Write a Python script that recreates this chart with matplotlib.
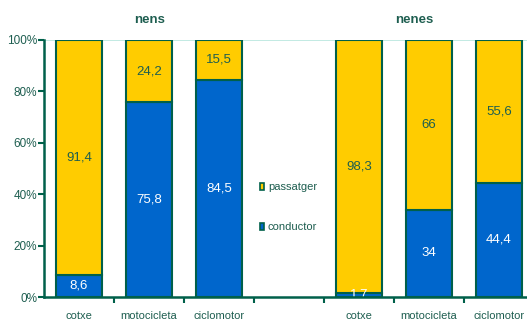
import numpy as np
import matplotlib.pyplot as plt
from matplotlib.patches import Rectangle

plt.rcParams["font.family"] = ["Liberation Sans", "DejaVu Sans"]

# Data: 7 slots, the 4th one is empty (legend sits there)
categories = ["cotxe", "motocicleta", "ciclomotor", "", "cotxe", "motocicleta", "ciclomotor"]
conductor = [8.6, 75.8, 84.5, None, 1.7, 34, 44.4]
passatger = [91.4, 24.2, 15.5, None, 98.3, 66, 55.6]
yticks = [0, 20, 40, 60, 80, 100]

YELLOW = "#FFCC00"
BLUE = "#0066CC"
EDGE = "#00604A"
TXT = "#1E5E50"

W, H = 527, 320
fig = plt.figure(figsize=(W / 100, H / 100), dpi=100)
ax = fig.add_axes([44 / W, 23 / H, 490 / W, 257 / H])

x = np.arange(len(categories))
bw = 0.66
fmt = lambda v: ("%g" % v).replace(".", ",")

for i in x:
    c, p = conductor[i], passatger[i]
    if c is None:
        continue
    ax.bar(i, c, bw, color=BLUE, edgecolor=EDGE, lw=1.5, zorder=2)
    ax.bar(i, p, bw, bottom=c, color=YELLOW, edgecolor=EDGE, lw=1.5, zorder=2)
    ax.text(i, c / 2, fmt(c), ha="center", va="center", color="white",
            fontsize=9.5, zorder=3)
    ax.text(i, c + p / 2, fmt(p), ha="center", va="center", color=TXT,
            fontsize=9.5, zorder=3)

ax.axhline(100, color="#B8E6DE", lw=1.2, zorder=1)

ax.set_xlim(-0.5, 6.5)
ax.set_ylim(0, 100)
ax.set_yticks(yticks)
ax.set_yticklabels(["%d%%" % v for v in yticks], color=TXT, fontsize=8.5)
ax.set_xticks(np.arange(0.5, 6.5, 1))
ax.set_xticklabels([])
ax.tick_params(axis="y", direction="out", length=4, width=1.5, color=EDGE, pad=1)
ax.tick_params(axis="x", direction="out", length=4, width=1.5, color=EDGE)
for i, name in enumerate(categories):
    ax.text(i, -7.2, name, ha="center", va="center", color=TXT, fontsize=8,
            transform=ax.transData, clip_on=False)

for s in ["top", "right"]:
    ax.spines[s].set_visible(False)
for s in ["left", "bottom"]:
    ax.spines[s].set_color(EDGE)
    ax.spines[s].set_linewidth(1.8)
ax.spines["bottom"].set_zorder(5)

fig.text(150 / W, 1 - 20 / H, "nens", ha="center", va="center", color=TXT,
         fontsize=9.5, fontweight="bold")
fig.text(414 / W, 1 - 20 / H, "nenes", ha="center", va="center", color=TXT,
         fontsize=9.5, fontweight="bold")

# legend
for ypix, col, lab in [(187, YELLOW, "passatger"), (227, BLUE, "conductor")]:
    fig.patches.append(Rectangle((260 / W, 1 - (ypix + 3) / H), 4 / W, 7 / H,
                                 transform=fig.transFigure, facecolor=col,
                                 edgecolor=EDGE, lw=1.2))
    fig.text(268 / W, 1 - ypix / H, lab, ha="left", va="center", color=TXT,
             fontsize=8)

fig.savefig("out.png", dpi=100)
